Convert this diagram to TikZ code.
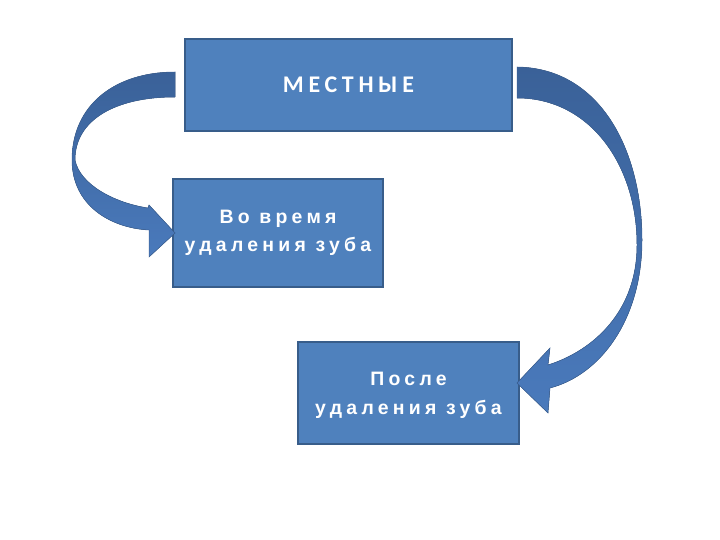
\documentclass[tikz,border=0pt]{standalone}
\usepackage{fontspec}
\setmainfont{Liberation Sans}
\newfontfamily\headfont[LetterSpace=20]{Carlito}
\newfontfamily\boxfont[LetterSpace=22]{Liberation Sans}
\usepackage{xcolor}
\usetikzlibrary{positioning}

\definecolor{boxblue}{RGB}{79,129,189}
\definecolor{boxedge}{RGB}{56,93,138}
\definecolor{arrowdark}{RGB}{58,97,152}
\definecolor{arrowlight}{RGB}{74,122,188}
\definecolor{arrowedge}{RGB}{60,98,150}

\begin{document}
\begin{tikzpicture}[x=1bp, y=-1bp,
		stage/.style={draw=boxedge, line width=1.2bp, fill=boxblue, text=white, align=center, inner sep=0pt},
		curvearrow/.style={top color=arrowdark, bottom color=arrowlight, draw=arrowedge, line width=0.5bp}]
			% Fix the page size
			\useasboundingbox (0,0) rectangle (720,540);
			
			% Draw the three boxes
			\node[stage, minimum width=327bp, minimum height=92bp,
				font=\fontsize{24}{28}\headfont\bfseries] (mestnye) at (348.5,85) {МЕСТНЫЕ};
			\node[stage, minimum width=210bp, minimum height=108bp,
				font=\fontsize{19.5}{28}\boxfont\bfseries] (vovremya) at (278,233) {Во время\\ удаления зуба};
			\node[stage, minimum width=221bp, minimum height=102bp,
				font=\fontsize{19.5}{30}\boxfont\bfseries] (posle) at (408.5,393) {\rule{0pt}{18pt}После\\ удаления зуба};
			
			% Draw the left curved arrow (to the middle box)
			\filldraw[curvearrow] (175,72) .. controls (115,72) and (72,105) .. (72,160)
				.. controls (72,205) and (110,228) .. (149,230)
				-- (149,257) -- (175,233) -- (149,205) -- (148,208)
				.. controls (115,203) and (80,185) .. (75,160)
				.. controls (75,120) and (115,97) .. (175,97) -- cycle;
			
			% Draw the right curved arrow (to the bottom box)
			\filldraw[curvearrow] (517,67) .. controls (600,68) and (642,150) .. (642,240)
				.. controls (642,320) and (600,375) .. (550,388)
				-- (548,413) -- (517,383) -- (550,348) -- (548,365)
				.. controls (595,350) and (637,310) .. (637,245)
				.. controls (637,165) and (590,98) .. (517,98) -- cycle;
			
		\end{tikzpicture}
\end{document}
